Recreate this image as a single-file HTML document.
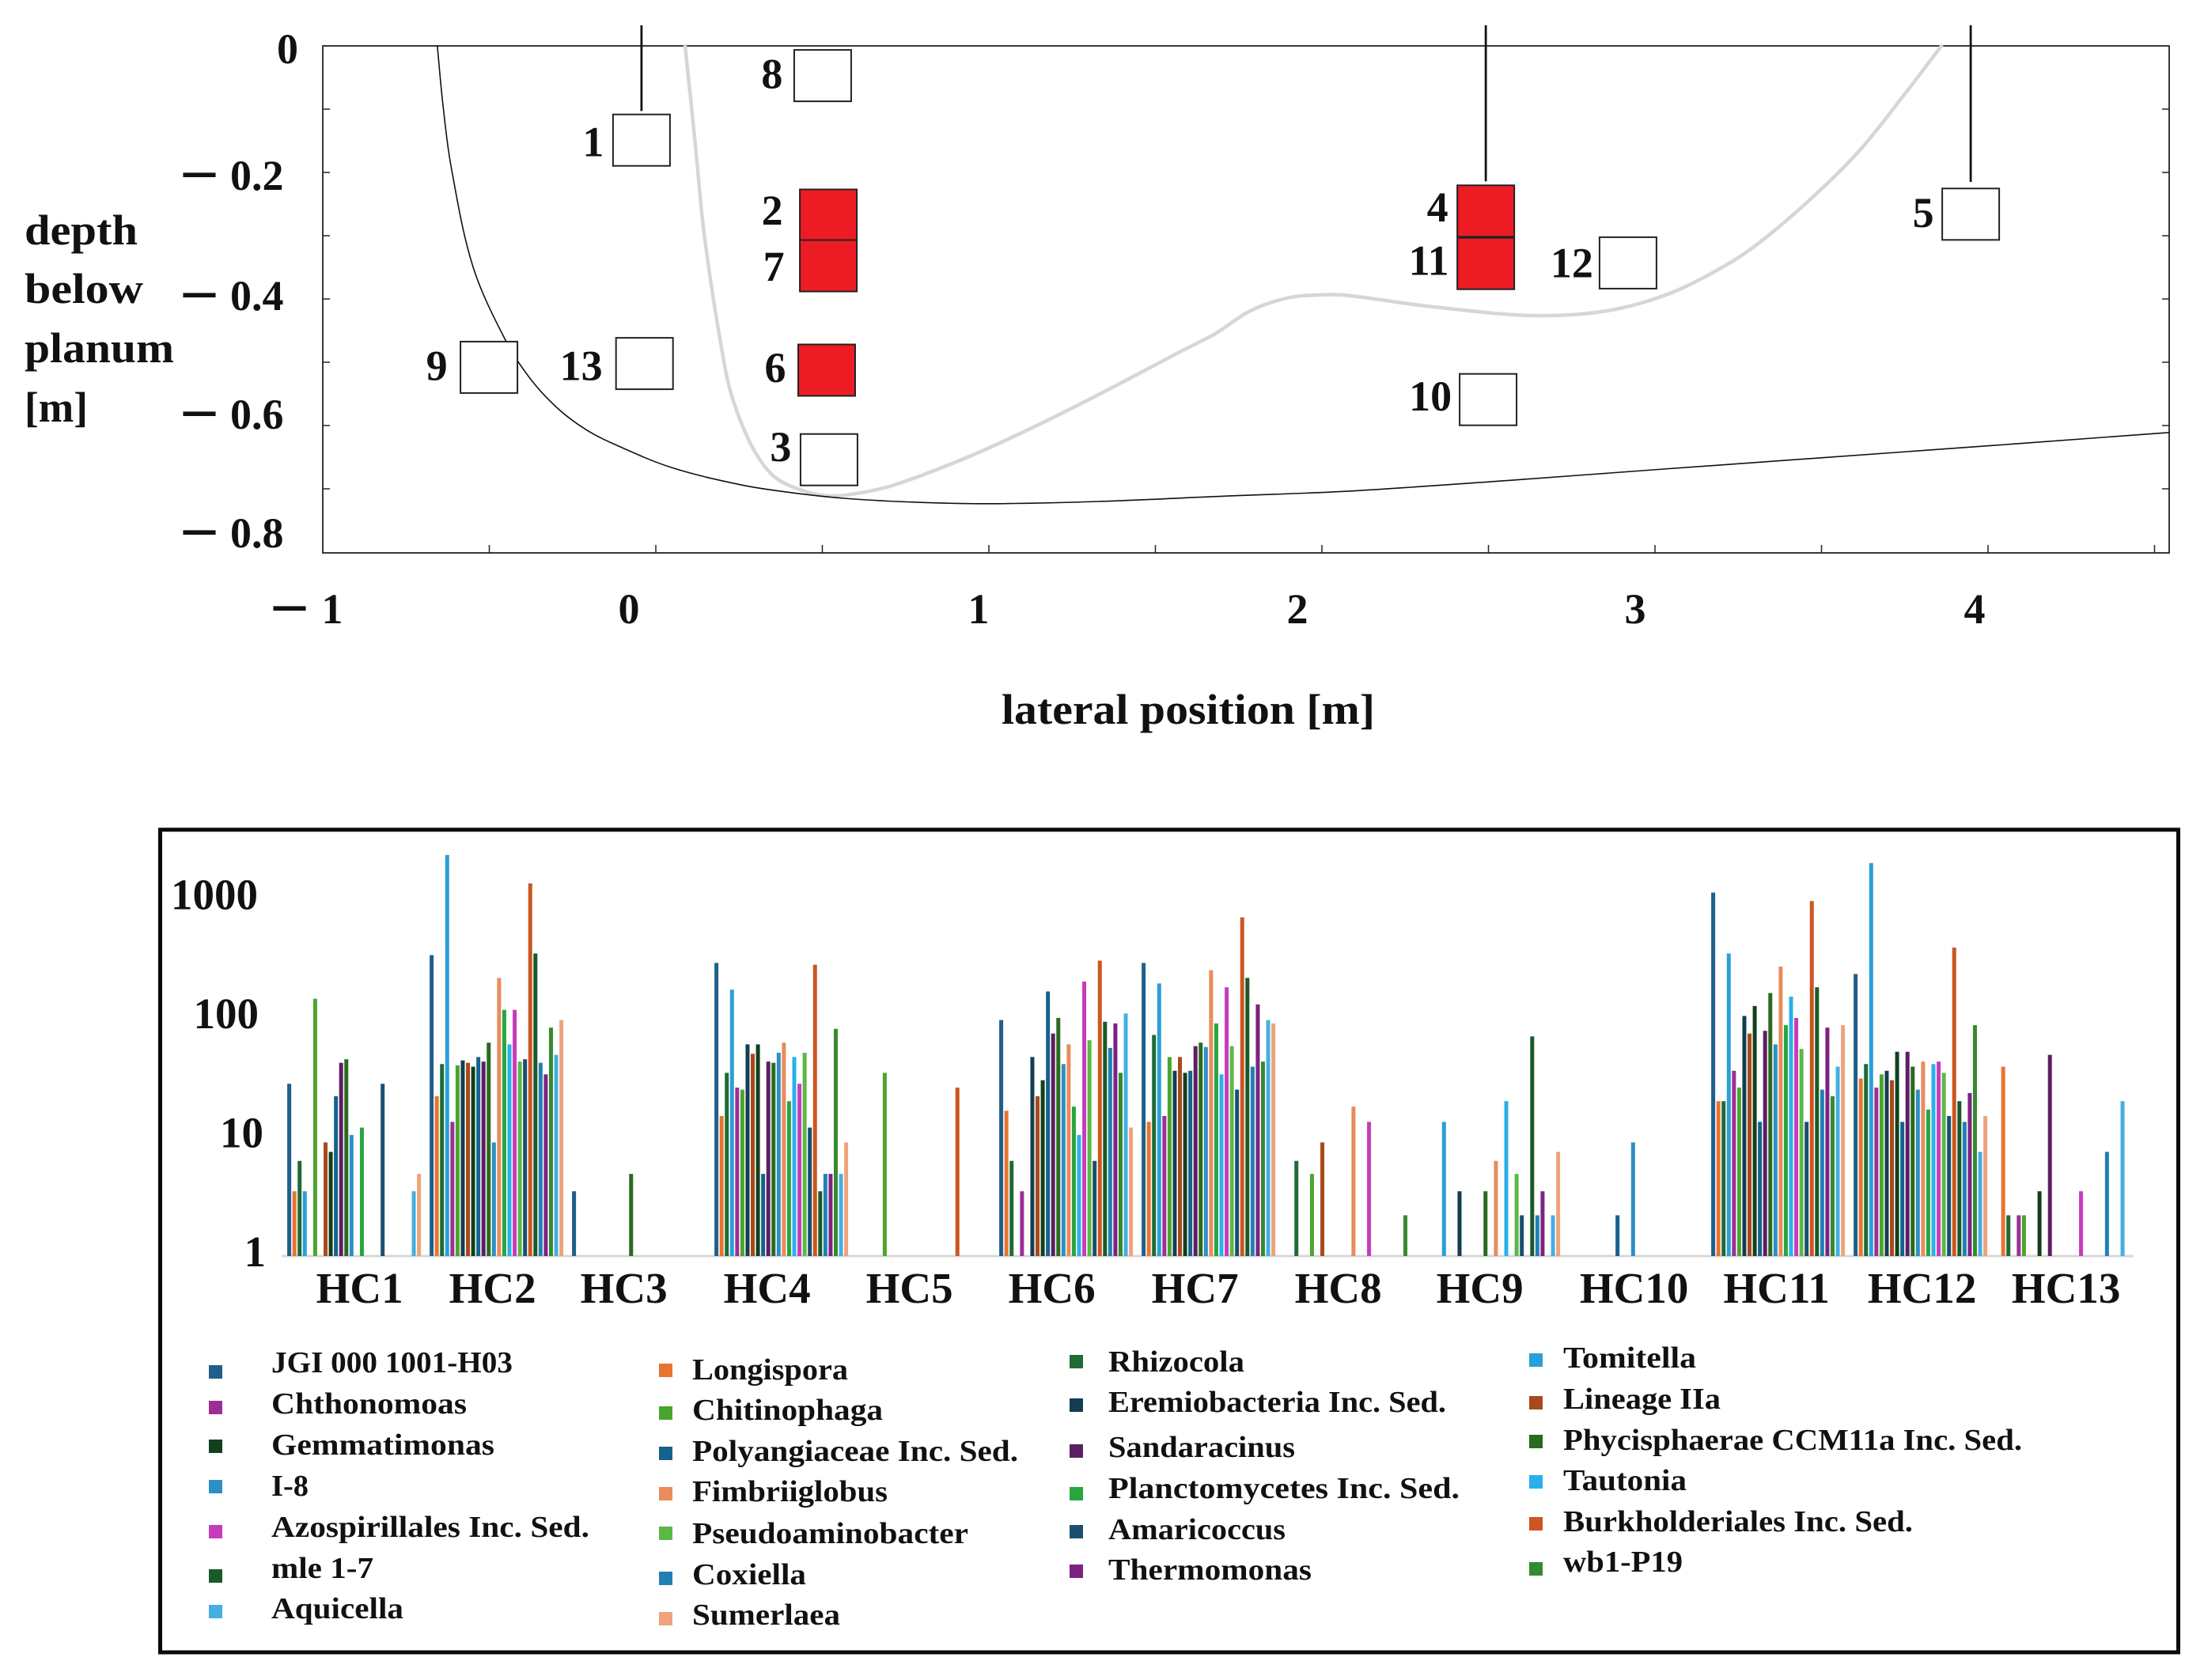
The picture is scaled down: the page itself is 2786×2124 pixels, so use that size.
<!DOCTYPE html>
<html lang="en">
<head>
<meta charset="utf-8">
<title>Depth profile and bacterial abundance</title>
<style>
html,body{margin:0;padding:0;background:#fff;}
svg{display:block;}
text{font-family:"Liberation Serif",serif;font-weight:700;fill:#111;}
.lg{font-size:38px;}
.tk{font-size:54px;}
.hc{font-size:55px;}
.dash{font-size:80px;}
</style>
</head>
<body>
<svg id="figure" xmlns="http://www.w3.org/2000/svg" width="2786" height="2124" viewBox="0 0 2786 2124">
  <rect x="0" y="0" width="2786" height="2124" fill="#fff"/>

  <g id="profile">
    <rect x="408" y="58" width="2334" height="641" fill="none" stroke="#222" stroke-width="1.8"/>
  </g>
  <text class="tk" x="31" y="309" textLength="143" lengthAdjust="spacingAndGlyphs">depth</text>
  <text class="tk" x="31" y="383" textLength="150" lengthAdjust="spacingAndGlyphs">below</text>
  <text class="tk" x="31" y="458" textLength="189" lengthAdjust="spacingAndGlyphs">planum</text>
  <text class="tk" x="31" y="533" textLength="80" lengthAdjust="spacingAndGlyphs">[m]</text>
  <text class="tk" x="1266" y="915" textLength="472" lengthAdjust="spacingAndGlyphs">lateral position [m]</text>

  <rect x="202.5" y="1049" width="2551" height="1040" fill="none" stroke="#0a0a0a" stroke-width="5"/>
  <g id="bars"></g>

  <g>
    <g><rect x="264" y="1726" width="17" height="17" fill="#1f5f8b"/><text class="lg" x="343" y="1735" textLength="305" lengthAdjust="spacingAndGlyphs">JGI 000 1001-H03</text></g>
    <g><rect x="264" y="1771" width="17" height="17" fill="#9c2f96"/><text class="lg" x="343" y="1787" textLength="247" lengthAdjust="spacingAndGlyphs">Chthonomoas</text></g>
    <g><rect x="264" y="1820" width="17" height="17" fill="#123f1c"/><text class="lg" x="343" y="1839" textLength="282" lengthAdjust="spacingAndGlyphs">Gemmatimonas</text></g>
    <g><rect x="264" y="1871" width="17" height="17" fill="#2d8fc4"/><text class="lg" x="343" y="1891" textLength="47" lengthAdjust="spacingAndGlyphs">I-8</text></g>
    <g><rect x="264" y="1928" width="17" height="17" fill="#c63cbb"/><text class="lg" x="343" y="1943" textLength="402" lengthAdjust="spacingAndGlyphs">Azospirillales Inc. Sed.</text></g>
    <g><rect x="264" y="1984" width="17" height="17" fill="#1a5a28"/><text class="lg" x="343" y="1995" textLength="129" lengthAdjust="spacingAndGlyphs">mle 1-7</text></g>
    <g><rect x="264" y="2029" width="17" height="17" fill="#45aee2"/><text class="lg" x="343" y="2046" textLength="167" lengthAdjust="spacingAndGlyphs">Aquicella</text></g>

    <g><rect x="833" y="1724" width="17" height="17" fill="#e8742f"/><text class="lg" x="875" y="1744" textLength="197" lengthAdjust="spacingAndGlyphs">Longispora</text></g>
    <g><rect x="833" y="1778" width="17" height="17" fill="#4aa52e"/><text class="lg" x="875" y="1795" textLength="241" lengthAdjust="spacingAndGlyphs">Chitinophaga</text></g>
    <g><rect x="833" y="1829" width="17" height="17" fill="#14628e"/><text class="lg" x="875" y="1847" textLength="412" lengthAdjust="spacingAndGlyphs">Polyangiaceae Inc. Sed.</text></g>
    <g><rect x="833" y="1880" width="17" height="17" fill="#e88c5c"/><text class="lg" x="875" y="1898" textLength="247" lengthAdjust="spacingAndGlyphs">Fimbriiglobus</text></g>
    <g><rect x="833" y="1930" width="17" height="17" fill="#5cb845"/><text class="lg" x="875" y="1951" textLength="349" lengthAdjust="spacingAndGlyphs">Pseudoaminobacter</text></g>
    <g><rect x="833" y="1987" width="17" height="17" fill="#2080b4"/><text class="lg" x="875" y="2003" textLength="144" lengthAdjust="spacingAndGlyphs">Coxiella</text></g>
    <g><rect x="833" y="2038" width="17" height="17" fill="#eea37c"/><text class="lg" x="875" y="2054" textLength="187" lengthAdjust="spacingAndGlyphs">Sumerlaea</text></g>

    <g><rect x="1352" y="1713" width="17" height="17" fill="#1e6b35"/><text class="lg" x="1401" y="1734" textLength="172" lengthAdjust="spacingAndGlyphs">Rhizocola</text></g>
    <g><rect x="1352" y="1768" width="17" height="17" fill="#143d52"/><text class="lg" x="1401" y="1785" textLength="427" lengthAdjust="spacingAndGlyphs">Eremiobacteria Inc. Sed.</text></g>
    <g><rect x="1352" y="1826" width="17" height="17" fill="#5c1e63"/><text class="lg" x="1401" y="1842" textLength="236" lengthAdjust="spacingAndGlyphs">Sandaracinus</text></g>
    <g><rect x="1352" y="1880" width="17" height="17" fill="#28a53f"/><text class="lg" x="1401" y="1894" textLength="444" lengthAdjust="spacingAndGlyphs">Planctomycetes  Inc. Sed.</text></g>
    <g><rect x="1352" y="1928" width="17" height="17" fill="#1a4f70"/><text class="lg" x="1401" y="1946" textLength="224" lengthAdjust="spacingAndGlyphs">Amaricoccus</text></g>
    <g><rect x="1352" y="1978" width="17" height="17" fill="#7b2382"/><text class="lg" x="1401" y="1997" textLength="257" lengthAdjust="spacingAndGlyphs">Thermomonas</text></g>

    <g><rect x="1933" y="1711" width="17" height="17" fill="#2a9fd8"/><text class="lg" x="1976" y="1729" textLength="168" lengthAdjust="spacingAndGlyphs">Tomitella</text></g>
    <g><rect x="1933" y="1765" width="17" height="17" fill="#a8491c"/><text class="lg" x="1976" y="1781" textLength="199" lengthAdjust="spacingAndGlyphs">Lineage IIa</text></g>
    <g><rect x="1933" y="1814" width="17" height="17" fill="#2a6a1e"/><text class="lg" x="1976" y="1833" textLength="580" lengthAdjust="spacingAndGlyphs">Phycisphaerae CCM11a Inc. Sed.</text></g>
    <g><rect x="1933" y="1865" width="17" height="17" fill="#2ab0ea"/><text class="lg" x="1976" y="1884" textLength="156" lengthAdjust="spacingAndGlyphs">Tautonia</text></g>
    <g><rect x="1933" y="1918" width="17" height="17" fill="#cc5520"/><text class="lg" x="1976" y="1936" textLength="442" lengthAdjust="spacingAndGlyphs">Burkholderiales Inc. Sed.</text></g>
    <g><rect x="1933" y="1975" width="17" height="17" fill="#358a2f"/><text class="lg" x="1976" y="1987" textLength="151" lengthAdjust="spacingAndGlyphs">wb1-P19</text></g>
  </g>
</svg>

<script>
// ---------- depth profile data ----------
const lateralTickLabels = ["1", "0", "1", "2", "3", "4"];
const lateralTickValues = [-1, 0, 1, 2, 3, 4];
const lateralLabelNudge = [12, -34, -13, -31, -25, -17];
const depthTickLabels = ["0", "0.2", "0.4", "0.6", "0.8"];
const depthTickValues = [0, 0.2, 0.4, 0.6, 0.8];
const depthLabelNudge = [22, 22, 14, 4, -6];
const lateralMinorTicks = [-0.5, 0, 0.5, 1, 1.5, 2, 2.5, 3, 3.5, 4, 4.5];
const depthMinorTicks = [0.1, 0.2, 0.3, 0.4, 0.5, 0.6, 0.7];

const outerCurveLateral = [-0.656, -0.639, -0.615, -0.549, -0.449, -0.371, -0.290, -0.211, -0.133, 0.045, 0.258, 0.406, 0.565, 0.772, 1.0, 1.328, 1.732, 2.069, 2.501, 2.994, 4.002, 4.544];
const outerCurveDepth = [0, 0.094, 0.19, 0.349, 0.4675, 0.53, 0.575, 0.606, 0.6275, 0.666, 0.694, 0.706, 0.715, 0.721, 0.7235, 0.72, 0.711, 0.704, 0.689, 0.670, 0.632, 0.611];
const innerCurveLateral = [0.088, 0.105, 0.121, 0.140, 0.164, 0.192, 0.223, 0.280, 0.342, 0.406, 0.512, 0.618, 0.724, 0.936, 1.148, 1.361, 1.572, 1.679, 1.784, 1.891, 1.976, 2.069, 2.311, 2.577, 2.748, 2.893, 3.038, 3.159, 3.280, 3.438, 3.608, 3.753, 3.860];
const innerCurveDepth = [0, 0.086, 0.169, 0.274, 0.369, 0.461, 0.544, 0.624, 0.674, 0.696, 0.711, 0.706, 0.6925, 0.650, 0.599, 0.5425, 0.484, 0.455, 0.419, 0.399, 0.394, 0.394, 0.411, 0.425, 0.425, 0.415, 0.3925, 0.3625, 0.324, 0.256, 0.169, 0.074, 0];

const sampleIds = [1, 2, 3, 4, 5, 6, 7, 8, 9, 10, 11, 12, 13];
const sampleLateral = [-0.043, 0.518, 0.52, 2.492, 3.948, 0.513, 0.518, 0.501, -0.501, 2.499, 2.492, 2.919, -0.034];
const sampleDepth = [0.149, 0.2675, 0.654, 0.261, 0.266, 0.5125, 0.3475, 0.047, 0.508, 0.559, 0.344, 0.343, 0.502];
const sampleContaminated = [0, 1, 0, 1, 0, 1, 1, 0, 0, 0, 1, 0, 0];
const sampleLabelDx = [-61, -71, -61, -61, -60, -65, -69, -64, -66, -73, -72, -71, -80];
const sampleLabelDy = [2.5, -6, -16, -5, -2, -3, 1, -2, -2, -4, -3.5, 0, 3];

const boreholeLateral = [-0.043, 2.492, 3.948];
const boreholeBottomDepth = [0.103, 0.214, 0.215];

// ---------- bar chart data ----------
const categories = ["HC1","HC2","HC3","HC4","HC5","HC6","HC7","HC8","HC9","HC10","HC11","HC12","HC13"];
const categoryLabelNudge = [7, -5, -19, -18, -18, -18, -17, -16, -17, -2, -2, 2, 4];
const seriesNames = ["JGI 000 1001-H03","Longispora","Rhizocola","Tomitella","Chthonomoas","Chitinophaga","Eremiobacteria Inc. Sed.","Lineage IIa","Gemmatimonas","Polyangiaceae Inc. Sed.","Sandaracinus","Phycisphaerae CCM11a Inc. Sed.","I-8","Fimbriiglobus","Planctomycetes Inc. Sed.","Tautonia","Azospirillales Inc. Sed.","Pseudoaminobacter","Amaricoccus","Burkholderiales Inc. Sed.","mle 1-7","Coxiella","Thermomonas","wb1-P19","Aquicella","Sumerlaea"];
const seriesColors = ["#1f5f8b","#e8742f","#1e6b35","#2a9fd8","#9c2f96","#4aa52e","#143d52","#a8491c","#123f1c","#14628e","#5c1e63","#2a6a1e","#2d8fc4","#e88c5c","#28a53f","#2ab0ea","#c63cbb","#5cb845","#1a4f70","#cc5520","#1a5a28","#2080b4","#7b2382","#358a2f","#45aee2","#eea37c"];
const valueTickValues = [1, 10, 100, 1000];
const valueTickLabels = ["1", "10", "100", "1000"];
const valueTickLabelNudge = [6, 3, -3, -4];

const valuesHC1 = [28,3.5,6.3,3.5,0,145,0,9,7.5,22,42,45,10.4,0,12,0,0,0,28,0,0,0,0,0,3.5,4.9];
const valuesHC2 = [337,22,41,2340,13.4,40,44,42,39,47,43,62,9,217,117,60,117,43,45,1350,348,42,33.6,83,49,96];
const valuesHC3 = [3.5,0,0,0,0,0,0,0,0,0,0,4.9,0,0,0,0,0,0,0,0,0,0,0,0,0,0];
const valuesHC4 = [290,15,34.6,173,26,25,60,50,60,4.9,43,42,51,62,20,47,28,51,12,280,3.5,4.9,4.9,81,4.9,9];
const valuesHC5 = [0,0,0,0,0,34.6,0,0,0,0,0,0,0,0,0,0,0,0,0,26,0,0,0,0,0,0];
const valuesHC6 = [96,16.6,6.3,0,3.5,0,47,22,30,167,74,100,41,60,18,10.4,202,65,6.3,303,93,56,90,34.6,109,12];
const valuesHC7 = [290,13.4,72,195,15,47,36,47,34.6,36,58,62,57,252,90,33.6,181,58,25,700,217,39,130,43,96,90];
const valuesHC8 = [0,0,6.3,0,0,4.9,0,9,0,0,0,0,0,18,0,0,13.4,0,0,0,0,0,0,2.2,0,0];
const valuesHC9 = [0,0,0,13.4,0,0,3.5,0,0,0,0,3.5,0,6.3,0,20,0,4.9,2.2,0,70,2.2,3.5,0,2.2,7.5];
const valuesHC10 = [0,0,0,0,0,0,0,0,0,2.2,0,0,9,0,0,0,0,0,0,0,0,0,0,0,0,0];
const valuesHC11 = [1130,20,20,348,36,26,104,74,126,13.4,78,162,60,270,87,151,100,55,13.4,960,181,25,83,22,39,87];
const valuesHC12 = [234,31,41,2000,26,33.6,36,30,52,13.4,52,39,25,43,17,41,43,34.6,15,390,20,13.4,23.4,87,7.5,15];
const valuesHC13 = [0,39,2.2,0,2.2,2.2,0,0,3.5,0,49,0,0,0,0,0,3.5,0,0,0,0,7.5,0,0,20,0];
const categoryValues = [valuesHC1,valuesHC2,valuesHC3,valuesHC4,valuesHC5,valuesHC6,valuesHC7,valuesHC8,valuesHC9,valuesHC10,valuesHC11,valuesHC12,valuesHC13];

// ---------- axis functions ----------
const NS = "http://www.w3.org/2000/svg";
function lateralX(v) { return 408 + (v + 1) * 421; }
function depthY(d) { return 58 + d * 800; }
function valueY(v) { return 1588 - 150.5 * Math.log10(v); }
function groupLeft(g) { return 365.6 + 180 * g; }
function barX(g, s) { return groupLeft(g) + s * 6.56; }

function make(parent, tag, attrs, text) {
  const el = document.createElementNS(NS, tag);
  for (const k in attrs) el.setAttribute(k, attrs[k]);
  if (text !== undefined) el.textContent = text;
  parent.appendChild(el);
  return el;
}

// Spline whose tangent length follows the local segment length, so unevenly spaced points do not wobble.
function smoothPath(xs, ys) {
  const px = xs.map(lateralX);
  const py = ys.map(depthY);
  const n = px.length;
  const tx = [], ty = [];
  for (let i = 0; i < n; i++) {
    const a = Math.max(i - 1, 0), b = Math.min(i + 1, n - 1);
    const dx = px[b] - px[a], dy = py[b] - py[a];
    const len = Math.hypot(dx, dy) || 1;
    tx.push(dx / len);
    ty.push(dy / len);
  }
  let d = "M" + px[0].toFixed(1) + " " + py[0].toFixed(1);
  for (let i = 0; i < n - 1; i++) {
    const seg = Math.hypot(px[i + 1] - px[i], py[i + 1] - py[i]) / 3;
    d += "C" + (px[i] + tx[i] * seg).toFixed(1) + " " + (py[i] + ty[i] * seg).toFixed(1) + " " + (px[i + 1] - tx[i + 1] * seg).toFixed(1) + " " + (py[i + 1] - ty[i + 1] * seg).toFixed(1) + " " + px[i + 1].toFixed(1) + " " + py[i + 1].toFixed(1);
  }
  return d;
}

// ---------- depth profile ----------
const profile = document.getElementById("profile");

lateralMinorTicks.forEach(function (v) {
  const t = make(profile, "line", {x1: lateralX(v), x2: lateralX(v), y1: depthY(0) + 641, y2: depthY(0) + 631, stroke: "#222", "stroke-width": 1.5});
  
  
});
depthMinorTicks.forEach(function (d) {
  const l = make(profile, "line", {x1: 408, x2: 417, y1: depthY(d), y2: depthY(d), stroke: "#222", "stroke-width": 1.5});
  
  
  const r = make(profile, "line", {x1: 2733, x2: 2742, y1: depthY(d), y2: depthY(d), stroke: "#222", "stroke-width": 1.5});
  
  
});

lateralTickValues.forEach(function (v, i) {
  const t = make(profile, "text", {class: "tk", y: 788});
  
  
  if (v < 0) {
    make(t, "tspan", {class: "dash", x: 346}, "\u2013");
  }
  make(t, "tspan", {x: lateralX(v) + lateralLabelNudge[i] - 13.5}, lateralTickLabels[i]);
});
depthTickValues.forEach(function (d, i) {
  const t = make(profile, "text", {class: "tk", y: depthY(d) + depthLabelNudge[i]});
  
  
  if (d > 0) {
    make(t, "tspan", {class: "dash", x: 232}, "\u2013");
    make(t, "tspan", {x: 291}, depthTickLabels[i]);
  } else {
    make(t, "tspan", {x: 350}, depthTickLabels[i]);
  }
});

const innerCurve = make(profile, "path", {d: smoothPath(innerCurveLateral, innerCurveDepth), fill: "none", stroke: "#d6d6d6", "stroke-width": 4.5, "stroke-linecap": "round"});


const outerCurve = make(profile, "path", {d: smoothPath(outerCurveLateral, outerCurveDepth), fill: "none", stroke: "#111", "stroke-width": 1.6});



boreholeLateral.forEach(function (v, i) {
  const l = make(profile, "line", {x1: lateralX(v), x2: lateralX(v), y1: 32, y2: depthY(boreholeBottomDepth[i]) + 0, stroke: "#111", "stroke-width": 2.8});
  
  
});

sampleIds.forEach(function (id, i) {
  const cx = lateralX(sampleLateral[i]);
  const cy = depthY(sampleDepth[i]);
  const r = make(profile, "rect", {x: cx - 36, y: cy - 32.5, width: 72, height: 65, fill: sampleContaminated[i] ? "#ed1c24" : "#fff", stroke: "#222", "stroke-width": 2});
  
  
  const t = make(profile, "text", {class: "tk", x: cx + sampleLabelDx[i], y: cy + sampleLabelDy[i] + 18, "text-anchor": "middle"}, String(id));
  
  
});

// ---------- bar chart ----------
const bars = document.getElementById("bars");

const baseline = make(bars, "line", {x1: 356, x2: 2697, y1: valueY(1), y2: valueY(1), stroke: "#d9d9d9", "stroke-width": 3});



valueTickValues.forEach(function (v, i) {
  const t = make(bars, "text", {class: "hc", x: 330 + valueTickLabelNudge[i], y: valueY(v) + 13, "text-anchor": "end"}, valueTickLabels[i]);
  
  
});

categoryValues.forEach(function (vals, g) {
  vals.forEach(function (v, s) {
    if (v <= 0) return;
    const top = valueY(v);
    const r = make(bars, "rect", {x: barX(g, s) - 2.5, y: top, width: 5, height: valueY(1) - top, fill: seriesColors[s]});
    
    
    make(r, "title", {}, categories[g] + " " + seriesNames[s] + ": " + v);
  });
  const c = make(bars, "text", {class: "hc", x: groupLeft(g) + 82 + categoryLabelNudge[g], y: 1647, "text-anchor": "middle"}, categories[g]);
  
  
});
</script>
</body>
</html>
